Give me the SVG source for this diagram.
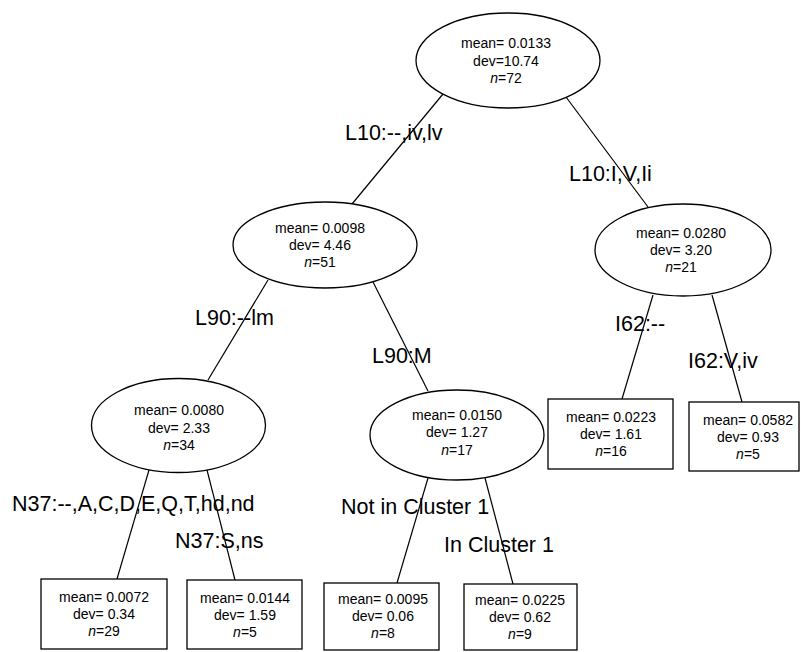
<svg xmlns="http://www.w3.org/2000/svg" width="801" height="652" viewBox="0 0 801 652">
<style>
.shape{fill:#fff;stroke:#000;stroke-width:1.3}
.edge{stroke:#000;stroke-width:1.2;fill:none}
.nt{font-family:"Liberation Sans",Arial,sans-serif;font-size:14px;fill:#000;text-anchor:middle}
.it{font-style:italic}
.lbl{font-family:"Liberation Sans",Arial,sans-serif;font-size:21.5px;fill:#000}
</style>
<rect width="801" height="652" fill="#fff"/>
<g id="connectors">
<line class="edge" x1="443" y1="94" x2="352" y2="204"/>
<line class="edge" x1="566" y1="97" x2="648" y2="207"/>
<line class="edge" x1="268" y1="280" x2="208" y2="380"/>
<line class="edge" x1="373" y1="282" x2="428" y2="391"/>
<line class="edge" x1="653" y1="295" x2="622" y2="399"/>
<line class="edge" x1="712" y1="295" x2="742" y2="402"/>
<line class="edge" x1="149" y1="470" x2="117" y2="579"/>
<line class="edge" x1="207" y1="470" x2="235" y2="580"/>
<line class="edge" x1="428" y1="478" x2="397" y2="583"/>
<line class="edge" x1="485" y1="478" x2="513" y2="584"/>
</g>
<g id="edge-labels">
<text class="lbl" x="345" y="140">L10:--,iv,lv</text>
<text class="lbl" x="569" y="181">L10:I,V,Ii</text>
<text class="lbl" x="195" y="325">L90:--lm</text>
<text class="lbl" x="372" y="363">L90:M</text>
<text class="lbl" x="615" y="331">I62:--</text>
<text class="lbl" x="688" y="368">I62:V,iv</text>
<text class="lbl" x="12" y="511">N37:--,A,C,D,E,Q,T,hd,nd</text>
<text class="lbl" x="175" y="548">N37:S,ns</text>
<text class="lbl" x="341" y="514">Not in Cluster 1</text>
<text class="lbl" x="444" y="552">In Cluster 1</text>
</g>
<g id="node-root">
<ellipse class="shape" cx="508" cy="60.5" rx="92" ry="47.5"/>
<text class="nt" x="506" y="48">mean= 0.0133</text>
<text class="nt" x="506" y="66">dev=10.74</text>
<text class="nt" x="506" y="83"><tspan class="it">n</tspan>=72</text>
</g>
<g id="node-a">
<ellipse class="shape" cx="325" cy="245" rx="92" ry="43"/>
<text class="nt" x="320" y="233">mean= 0.0098</text>
<text class="nt" x="320" y="250">dev= 4.46</text>
<text class="nt" x="320" y="267"><tspan class="it">n</tspan>=51</text>
</g>
<g id="node-b">
<ellipse class="shape" cx="683" cy="250" rx="88" ry="46"/>
<text class="nt" x="681" y="238">mean= 0.0280</text>
<text class="nt" x="681" y="255">dev= 3.20</text>
<text class="nt" x="681" y="272"><tspan class="it">n</tspan>=21</text>
</g>
<g id="node-c">
<ellipse class="shape" cx="178.5" cy="425.5" rx="87" ry="47"/>
<text class="nt" x="179" y="415">mean= 0.0080</text>
<text class="nt" x="179" y="433">dev= 2.33</text>
<text class="nt" x="179" y="450"><tspan class="it">n</tspan>=34</text>
</g>
<g id="node-d">
<ellipse class="shape" cx="457" cy="435" rx="87" ry="45"/>
<text class="nt" x="457" y="420">mean= 0.0150</text>
<text class="nt" x="457" y="437">dev= 1.27</text>
<text class="nt" x="457" y="455"><tspan class="it">n</tspan>=17</text>
</g>
<g id="leaf-e">
<rect class="shape" x="548" y="399" width="125" height="70"/>
<text class="nt" x="611" y="422">mean= 0.0223</text>
<text class="nt" x="611" y="439">dev= 1.61</text>
<text class="nt" x="611" y="456"><tspan class="it">n</tspan>=16</text>
</g>
<g id="leaf-f">
<rect class="shape" x="689" y="402" width="110" height="69"/>
<text class="nt" x="748" y="425">mean= 0.0582</text>
<text class="nt" x="748" y="442">dev= 0.93</text>
<text class="nt" x="748" y="459"><tspan class="it">n</tspan>=5</text>
</g>
<g id="leaf-g">
<rect class="shape" x="41" y="579" width="126" height="70"/>
<text class="nt" x="104" y="602">mean= 0.0072</text>
<text class="nt" x="104" y="619">dev= 0.34</text>
<text class="nt" x="104" y="636"><tspan class="it">n</tspan>=29</text>
</g>
<g id="leaf-h">
<rect class="shape" x="187" y="580" width="115" height="69"/>
<text class="nt" x="245" y="603">mean= 0.0144</text>
<text class="nt" x="245" y="620">dev= 1.59</text>
<text class="nt" x="245" y="637"><tspan class="it">n</tspan>=5</text>
</g>
<g id="leaf-i">
<rect class="shape" x="324" y="583" width="115" height="67"/>
<text class="nt" x="383" y="604">mean= 0.0095</text>
<text class="nt" x="383" y="621">dev= 0.06</text>
<text class="nt" x="383" y="638"><tspan class="it">n</tspan>=8</text>
</g>
<g id="leaf-j">
<rect class="shape" x="464" y="584" width="113" height="66"/>
<text class="nt" x="520" y="605">mean= 0.0225</text>
<text class="nt" x="520" y="622">dev= 0.62</text>
<text class="nt" x="520" y="639"><tspan class="it">n</tspan>=9</text>
</g>
</svg>
